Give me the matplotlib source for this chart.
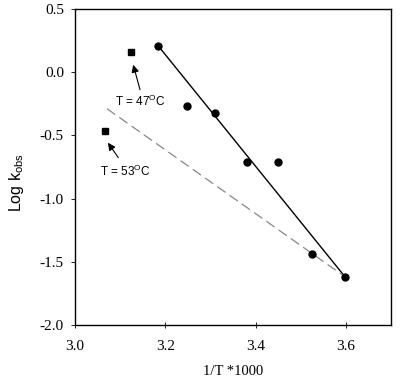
import matplotlib
matplotlib.use("Agg")
import matplotlib.pyplot as plt

#--- Data ---#

# Rate constants (circles) vs 1/T*1000
circ_x = [3.184, 3.247, 3.311, 3.380, 3.449, 3.524, 3.598]
circ_y = [0.21, -0.265, -0.32, -0.708, -0.708, -1.436, -1.618]

# High temperature points (squares)
sq_x = [3.124, 3.067]
sq_y = [0.162, -0.463]

# Solid fitted line
fit_x = [3.184, 3.598]
fit_y = [0.21, -1.618]

# Dashed fitted line
dash_x = [3.071, 3.598]
dash_y = [-0.289, -1.618]

# Annotations: text, text position, arrow tail, arrow head
notes = ["T = 47$^{\\mathrm{O}}$C", "T = 53$^{\\mathrm{O}}$C"]
note_xy = [(3.144, -0.233), (3.111, -0.787)]
tail_xy = [(3.144, -0.138), (3.096, -0.676)]
head_xy = [(3.129, 0.059), (3.073, -0.558)]

xticks = [3.0, 3.2, 3.4, 3.6]
yticks = [-2.0, -1.5, -1.0, -0.5, 0.0, 0.5]

plt.rcParams['mathtext.fontset'] = 'custom'
plt.rcParams['mathtext.rm'] = 'Liberation Sans'

fig = plt.figure(figsize=(4.0, 3.83), dpi=100)
ax = fig.add_axes([0.1875, 0.1514, 0.79, 0.825])

ax.plot(fit_x, fit_y, color='black', lw=1.0)
ax.plot(dash_x, dash_y, color='#888888', lw=0.9, dashes=(8, 4))
ax.plot(circ_x, circ_y, 'o', color='black', ms=5)
ax.plot(sq_x, sq_y, 's', color='black', ms=4)

for t, p, s, h in zip(notes, note_xy, tail_xy, head_xy):
    ax.text(p[0], p[1], t, ha='center', va='center', fontsize=8.5, family='Liberation Sans')
    ax.annotate('', xy=h, xytext=s,
                arrowprops=dict(arrowstyle='-|>', color='black', lw=0.8,
                                mutation_scale=11, shrinkA=0, shrinkB=0))

ax.set_xlim(3.0, 3.7)
ax.set_ylim(-2.0, 0.5)
ax.set_xticks(xticks)
ax.set_yticks(yticks)
ax.set_xticklabels(["{:.1f}".format(v) for v in xticks], family='Liberation Serif', fontsize=11)
ax.set_yticklabels(["{:.1f}".format(v) for v in yticks], family='Liberation Serif', fontsize=11)
ax.tick_params(axis='x', direction='inout', length=5, width=0.6, pad=8)
ax.tick_params(axis='y', direction='out', length=3, width=0.6, pad=5)

ax.set_xlabel("1/T *1000", family='Liberation Serif', fontsize=10.5)
ax.xaxis.set_label_coords(0.5, -0.128)
ax.set_ylabel("Log k$_{\\mathrm{obs}}$", family='Liberation Sans', fontsize=11.5)
ax.yaxis.set_label_coords(-0.155, 0.45)

for sp in ax.spines.values():
    sp.set_linewidth(1.0)

plt.savefig("out.png", dpi=100)
